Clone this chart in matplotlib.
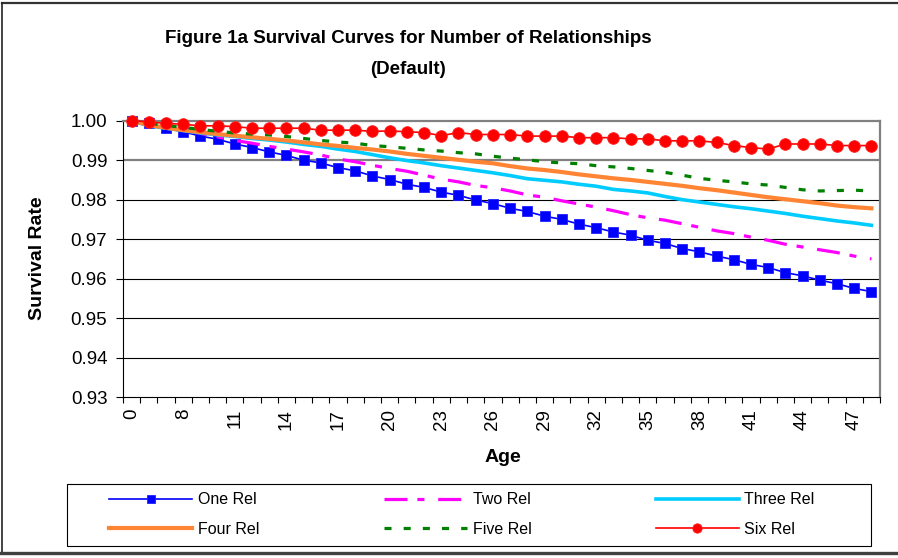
import matplotlib
matplotlib.use('Agg')
import matplotlib.pyplot as plt
import numpy as np
from matplotlib.lines import Line2D
from matplotlib.patches import Rectangle

plt.rcParams['font.family'] = ['Liberation Sans', 'DejaVu Sans']

# ---------------- data ----------------
ages = [0, 6, 7, 8, 9, 10, 11, 12, 13, 14, 15, 16, 17, 18, 19, 20, 21, 22, 23, 24,
        25, 26, 27, 28, 29, 30, 31, 32, 33, 34, 35, 36, 37, 38, 39, 40, 41, 42, 43,
        44, 45, 46, 47, 48]

one_rel = [1.0000, 0.9995, 0.9981, 0.9972, 0.9961, 0.9953, 0.9941, 0.9932, 0.9921, 0.9912,
           0.9900, 0.9893, 0.9881, 0.9873, 0.9860, 0.9851, 0.9839, 0.9831, 0.9819, 0.9811,
           0.9799, 0.9790, 0.9778, 0.9770, 0.9758, 0.9750, 0.9738, 0.9729, 0.9718, 0.9710,
           0.9697, 0.9689, 0.9676, 0.9668, 0.9657, 0.9648, 0.9636, 0.9628, 0.9615, 0.9607,
           0.9596, 0.9587, 0.9575, 0.9567]

two_rel = [1.0000, 0.9993, 0.9985, 0.9976, 0.9968, 0.9959, 0.9950, 0.9943, 0.9935, 0.9928,
           0.9921, 0.9913, 0.9903, 0.9896, 0.9887, 0.9879, 0.9872, 0.9862, 0.9852, 0.9845,
           0.9836, 0.9830, 0.9822, 0.9812, 0.9806, 0.9797, 0.9789, 0.9781, 0.9772, 0.9762,
           0.9754, 0.9748, 0.9739, 0.9730, 0.9721, 0.9714, 0.9705, 0.9697, 0.9687, 0.9680,
           0.9673, 0.9666, 0.9657, 0.9650]

three_rel = [1.0000, 0.9987, 0.9981, 0.9975, 0.9969, 0.9964, 0.9960, 0.9955, 0.9951, 0.9946,
             0.9940, 0.9935, 0.9928, 0.9922, 0.9914, 0.9906, 0.9899, 0.9893, 0.9886, 0.9880,
             0.9874, 0.9868, 0.9861, 0.9853, 0.9849, 0.9845, 0.9839, 0.9834, 0.9826, 0.9822,
             0.9817, 0.9808, 0.9800, 0.9794, 0.9788, 0.9782, 0.9777, 0.9771, 0.9765, 0.9758,
             0.9752, 0.9746, 0.9741, 0.9735]

four_rel = [1.0000, 0.9989, 0.9982, 0.9976, 0.9971, 0.9966, 0.9962, 0.9958, 0.9954, 0.9950,
            0.9945, 0.9940, 0.9936, 0.9931, 0.9927, 0.9922, 0.9916, 0.9911, 0.9906, 0.9901,
            0.9896, 0.9892, 0.9885, 0.9879, 0.9875, 0.9870, 0.9864, 0.9859, 0.9854, 0.9850,
            0.9845, 0.9840, 0.9835, 0.9829, 0.9824, 0.9818, 0.9812, 0.9806, 0.9801, 0.9796,
            0.9791, 0.9785, 0.9781, 0.9778]

five_rel = [1.0000, 0.9993, 0.9988, 0.9983, 0.9978, 0.9973, 0.9969, 0.9966, 0.9964, 0.9960,
            0.9955, 0.9950, 0.9946, 0.9943, 0.9937, 0.9934, 0.9930, 0.9926, 0.9923, 0.9919,
            0.9916, 0.9910, 0.9905, 0.9901, 0.9896, 0.9893, 0.9891, 0.9886, 0.9883, 0.9879,
            0.9874, 0.9869, 0.9862, 0.9854, 0.9849, 0.9845, 0.9840, 0.9837, 0.9831, 0.9825,
            0.9822, 0.9823, 0.9824, 0.9822]

six_rel = [1.0000, 0.9997, 0.9993, 0.9991, 0.9987, 0.9987, 0.9985, 0.9981, 0.9981, 0.9981,
           0.9981, 0.9976, 0.9976, 0.9976, 0.9973, 0.9974, 0.9972, 0.9970, 0.9962, 0.9970,
           0.9965, 0.9965, 0.9965, 0.9961, 0.9961, 0.9961, 0.9957, 0.9957, 0.9957, 0.9954,
           0.9954, 0.9949, 0.9949, 0.9949, 0.9945, 0.9937, 0.9932, 0.9928, 0.9941, 0.9941,
           0.9941, 0.9937, 0.9937, 0.9937]

y_ticks = [0.93, 0.94, 0.95, 0.96, 0.97, 0.98, 0.99, 1.00]
label_every = 3

title = 'Figure 1a Survival Curves for Number of Relationships\n(Default)'

# ---------------- figure ----------------
W, H = 898, 558
fig = plt.figure(figsize=(W / 100, H / 100), dpi=100)
fig.patch.set_facecolor('white')

ax = fig.add_axes([123 / W, 1 - 397 / H, (880 - 123) / W, (397 - 120.7) / H])
x = np.arange(len(ages))

# gridlines
for yv in y_ticks[1:-1]:
    if abs(yv - 0.99) < 1e-9:
        ax.axhline(yv, color='#808080', lw=1.6, zorder=1)
    else:
        ax.axhline(yv, color='black', lw=0.8, zorder=1)

l1, = ax.plot(x, one_rel, color='#0000FF', lw=1.2, marker='s', ms=7.4,
              mfc='#0000FF', mec='#2020FF', mew=0.6, label='One Rel', zorder=3, clip_on=False)
l2, = ax.plot(x, two_rel, color='#FF00FF', lw=2.3, dashes=(7.2, 3.1, 2.2, 4.3),
              label='Two Rel', zorder=3)
l3, = ax.plot(x, three_rel, color='#00CCFF', lw=2.6, label='Three Rel', zorder=3)
l4, = ax.plot(x, four_rel, color='#FF8434', lw=3.0, label='Four Rel', zorder=3)
l5, = ax.plot(x, five_rel, color='#008000', lw=2.3, dashes=(2.2, 3.8),
              label='Five Rel', zorder=3)
l6, = ax.plot(x, six_rel, color='#FF0000', lw=1.2, marker='o', ms=8.4,
              mfc='#FF0000', mec='#FF2020', mew=0.6, label='Six Rel', zorder=4, clip_on=False)

ax.set_xlim(-0.5, len(ages) - 0.5)
ax.set_ylim(0.93, 1.00)

# x ticks: marks between categories, labels every 3rd category
ax.set_xticks(np.arange(-0.5, len(ages), 1.0))
ax.set_xticklabels([])
lab_idx = list(range(0, len(ages), label_every))
ax.set_xticks(lab_idx, minor=True)
ax.set_xticklabels([str(ages[i]) for i in lab_idx], minor=True, rotation=90)
ax.tick_params(axis='x', which='major', direction='out', length=4.5, width=0.8, color='black')
ax.tick_params(axis='x', which='minor', length=0, pad=8.5, labelsize=13.5)

ax.set_yticks(y_ticks)
ax.set_yticklabels(['%.2f' % v for v in y_ticks])
ax.tick_params(axis='y', direction='out', length=4.8, width=0.8, pad=6.5, labelsize=13.5)

for s in ['left', 'bottom']:
    ax.spines[s].set_color('black')
    ax.spines[s].set_linewidth(0.8)
for s in ['top', 'right']:
    ax.spines[s].set_color('#808080')
    ax.spines[s].set_linewidth(1.6)

# axis titles and chart title
fig.text(38 / W, 1 - 258 / H, 'Survival Rate', rotation=90, ha='center', va='center',
         fontsize=14, fontweight='bold')
fig.text(503 / W, 1 - 457 / H, 'Age', ha='center', va='center', fontsize=14, fontweight='bold')
fig.text(408 / W, 1 - 54 / H, title, ha='center', va='center', fontsize=13.5,
         fontweight='bold', linespacing=2.1, multialignment='center')

# legend
fig.patches.append(Rectangle((67 / W, 1 - 546 / H), (871 - 67) / W, (546 - 484) / H,
                             transform=fig.transFigure, fill=False, ec='black', lw=0.8))
handles = [l1, l4, l2, l5, l3, l6]
fig.legend(handles, [h.get_label() for h in handles], ncol=3, loc='center',
           bbox_to_anchor=(462 / W, 1 - 514.5 / H), frameon=False, fontsize=11.5,
           handlelength=5.2, handletextpad=0.35, columnspacing=7.8, labelspacing=0.9,
           markerscale=0.8)

# outer chart border (left, top, bottom shadow)
fig.add_artist(Line2D([2.3 / W, 1], [1 - 2.7 / H, 1 - 2.7 / H], transform=fig.transFigure,
                      color='#333333', lw=1.6))
fig.add_artist(Line2D([2.3 / W, 2.3 / W], [1 - 2.7 / H, 1 - 552 / H], transform=fig.transFigure,
                      color='#222222', lw=1.2))
fig.add_artist(Line2D([0, 1], [1 - 552.5 / H, 1 - 552.5 / H], transform=fig.transFigure,
                      color='#404040', lw=2.4))

fig.savefig('out.png', dpi=100)
